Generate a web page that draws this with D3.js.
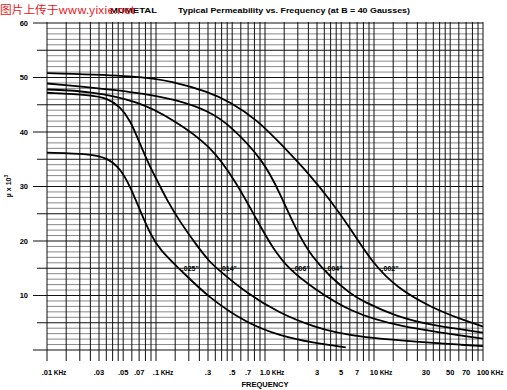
<!DOCTYPE html>
<html>
<head>
<meta charset="utf-8">
<script src="https://cdn.jsdelivr.net/npm/d3@7"></script>
<style>
	body { margin: 0; background: #fff; }
	svg { display: block; font-family: 'Liberation Sans', Arial, sans-serif; }
</style>
</head>
<body>
<svg id="chart" width="507" height="390"></svg>
<script>
// thickness of the lamination, one curve each
const thickness = ['.002"', '.004"', '.006"', '.014"', '.025"'];

// [frequency in KHz, permeability x 10^3]
const perm002 = [[0.01, 50.8], [0.07, 50.3], [0.14, 49.3], [0.3, 47.4], [0.48, 45.5], [0.85, 42.2], [1.37, 38.0],
	[2.76, 31.5], [3.95, 27.5], [6.0, 22.5], [9.8, 15.8], [16.3, 11.4], [32.6, 7.9], [65.5, 5.5], [100, 4.3]];
const perm004 = [[0.01, 48.9], [0.07, 47.3], [0.155, 45.9], [0.31, 43.8], [0.48, 41.2], [0.96, 34.9],
	[1.37, 28.8], [1.97, 21.6], [2.76, 16.8], [3.95, 13.5], [6.0, 10.4], [7.9, 8.9], [16.3, 6.1], [32.6, 4.6], [100, 3.2]];
const perm006 = [[0.01, 47.8], [0.025, 47.5], [0.07, 45.6], [0.14, 42.4], [0.32, 37.5], [0.55, 30.6],
	[0.84, 23.9], [1.18, 18.6], [1.7, 14.6], [2.76, 11.4], [6.0, 7.0], [16.3, 4.3], [100, 2.1]];
const perm014 = [[0.01, 47.2], [0.025, 46.8], [0.036, 46.2], [0.047, 44.6], [0.058, 42.2], [0.071, 37.9],
	[0.088, 33.6], [0.102, 31.2], [0.126, 27.5], [0.166, 23.5], [0.24, 19.0], [0.31, 16.2], [0.36, 15.0],
	[0.68, 10.4], [1.37, 6.7], [2.76, 4.3], [6.0, 2.3], [100, 0.7]];
const perm025 = [[0.01, 36.2], [0.025, 36.0], [0.036, 35.2], [0.047, 33.3], [0.058, 30.0], [0.071, 25.7],
	[0.088, 21.4], [0.109, 18.3], [0.166, 14.8], [0.3, 9.7], [0.68, 4.9], [1.37, 2.6], [2.76, 1.3], [5.5, 0.5]];
const series = [perm002, perm004, perm006, perm014, perm025];

const xTickValues = [0.01, 0.03, 0.05, 0.07, 0.1, 0.3, 0.5, 0.7, 1, 3, 5, 7, 10, 30, 50, 70, 100];
const xTickLabels = ['.01', '.03', '.05', '.07', '.1', '.3', '.5', '.7', '1.0', '3', '5', '7', '10', '30', '50', '70', '100'];
const yTickValues = [10, 20, 30, 40, 50, 60];
const gridSteps = [1, 1.5, 2, 2.5, 3, 3.5, 4, 4.5, 5, 6, 7, 8, 9];
const decades = [0.01, 0.1, 1, 10];

const svg = d3.select('#chart');
svg.append('rect').attr('width', 507).attr('height', 390).attr('fill', '#fff');

const x = d3.scaleLog().domain([0.01, 100]).range([47, 483]);
const y = d3.scaleLinear().domain([0, 60]).range([350, 23]);

// horizontal grid, one line per unit
const hLines = d3.range(0, 61);
svg.append('g')
	.selectAll('line')
	.data(hLines)
	.join('line')
	.attr('x1', (d) => (d % 10 === 0 ? 33 : d % 5 === 0 ? 37 : x(0.01)))
	.attr('x2', x(100))
	.attr('y1', (d) => y(d))
	.attr('y2', (d) => y(d))
	.attr('stroke', (d) => (d % 5 === 0 ? '#111' : '#6a6a6a'))
	.attr('stroke-width', (d) => (d % 5 === 0 ? 1.1 : 0.8));

// vertical grid, runs a bit under the axis
const vLines = decades.flatMap((dec) => gridSteps.map((s) => dec * s)).concat([100]);
svg.append('g')
	.selectAll('line')
	.data(vLines)
	.join('line')
	.attr('x1', (d) => x(d))
	.attr('x2', (d) => x(d))
	.attr('y1', y(60) - 1)
	.attr('y2', 361)
	.attr('stroke', '#111')
	.attr('stroke-width', 1);

// y labels
svg.append('g')
	.selectAll('text')
	.data(yTickValues)
	.join('text')
	.attr('x', 28)
	.attr('y', (d) => y(d) + 2.7)
	.attr('text-anchor', 'end')
	.attr('font-size', 7.5)
	.attr('font-weight', 'bold')
	.text((d) => d);

// x labels: number centred on its line, KHz trailing on the decades
const xl = svg.append('g').attr('font-size', 7.5).attr('font-weight', 'bold');
xTickValues.forEach((v, i) => {
	const t = xl.append('text').attr('y', 375).text(xTickLabels[i]);
	const w = t.node().getComputedTextLength();
	t.attr('x', x(v) - w / 2);
	if ([0.01, 0.1, 1, 10, 100].includes(v)) {
		xl.append('text')
			.attr('x', x(v) + w / 2 + 1.5)
			.attr('y', 375)
			.attr('font-size', 6.5)
			.text('KHz');
	}
});

svg.append('text')
	.attr('x', 265)
	.attr('y', 387)
	.attr('text-anchor', 'middle')
	.attr('font-size', 7.5)
	.attr('font-weight', 'bold')
	.text('FREQUENCY');

svg.append('text')
	.attr('transform', 'translate(11,186) rotate(-90)')
	.attr('text-anchor', 'middle')
	.attr('font-size', 7)
	.attr('font-weight', 'bold')
	.html('\u00b5 x 10<tspan dy="-3" font-size="5">3</tspan>');

// the curves
const line = d3
	.line()
	.x((d) => x(d[0]))
	.y((d) => y(d[1]))
	.curve(d3.curveBasis);

const labelY = y(15);
series.forEach((data, i) => {
	const p = svg.append('path')
		.attr('d', line(data))
		.attr('fill', 'none')
		.attr('stroke', '#000')
		.attr('stroke-width', 1.8);

	// put the name just right of where the curve passes 15
	const node = p.node();
	const len = node.getTotalLength();
	let lx = x(1);
	for (let s = 0; s <= len; s += 0.5) {
		const pt = node.getPointAtLength(s);
		if (pt.y >= labelY) {
			lx = pt.x;
			break;
		}
	}
	svg.append('text')
		.attr('x', lx + 3)
		.attr('y', labelY + 2.5)
		.attr('font-size', 7)
		.attr('font-weight', 'bold')
		.text(thickness[i]);
});

// headline
svg.append('text')
	.attr('x', 110)
	.attr('y', 13)
	.attr('font-size', 8)
	.attr('font-weight', 'bold')
	.attr('textLength', 47)
	.attr('lengthAdjust', 'spacingAndGlyphs')
	.text('MUMETAL');

svg.append('text')
	.attr('x', 178)
	.attr('y', 13)
	.attr('font-size', 8)
	.attr('font-weight', 'bold')
	.attr('textLength', 232)
	.attr('lengthAdjust', 'spacingAndGlyphs')
	.text('Typical Permeability vs. Frequency (at B = 40 Gausses)');

svg.append('text')
	.attr('x', 0)
	.attr('y', 14)
	.attr('font-size', 11)
	.attr('fill', '#e8161b')
	.attr('font-family', "'Noto Sans CJK SC', 'Liberation Sans', sans-serif")
	.attr('textLength', 135)
	.attr('lengthAdjust', 'spacingAndGlyphs')
	.text('图片上传于www.yixie.net');
</script>
</body>
</html>
